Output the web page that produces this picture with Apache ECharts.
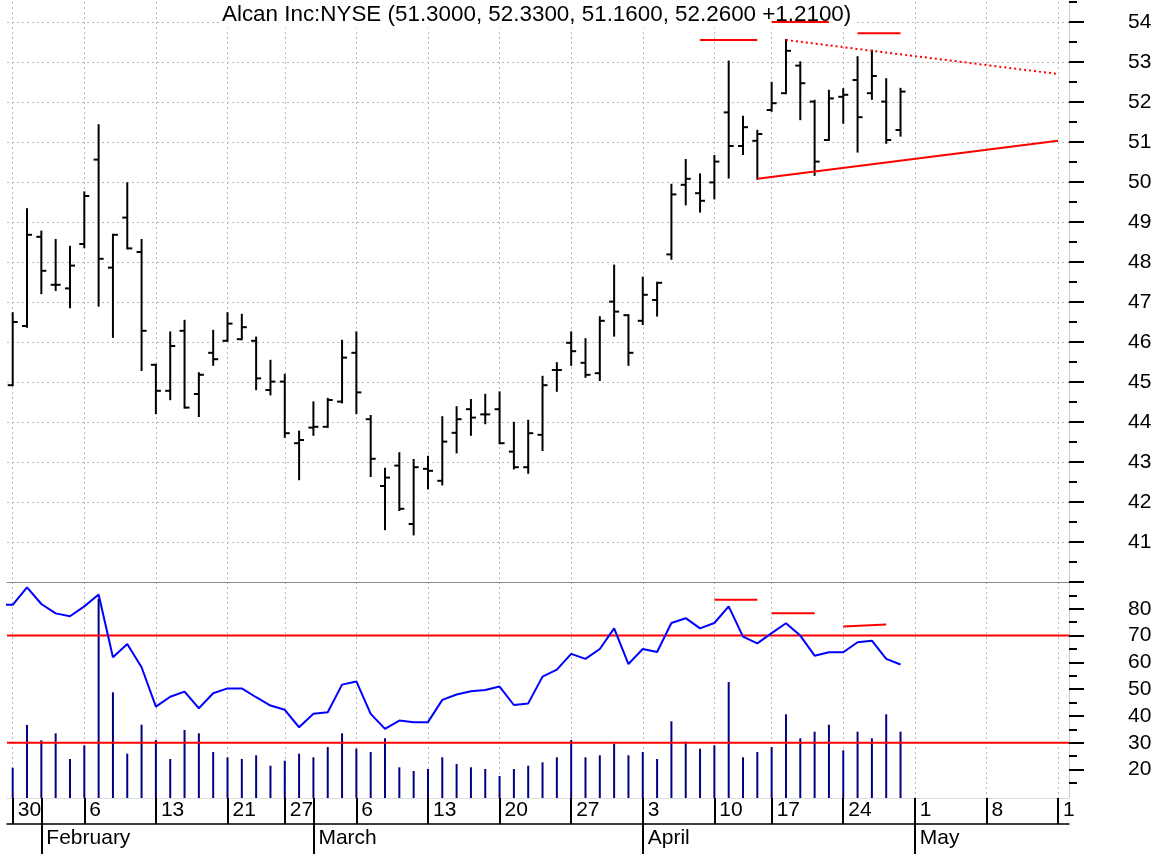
<!DOCTYPE html>
<html>
<head>
<meta charset="utf-8">
<title>Alcan Inc:NYSE</title>
<script src="https://cdn.jsdelivr.net/npm/echarts@6/dist/echarts.min.js"></script>
<style>
  html, body { margin: 0; padding: 0; background: #fff; }
  #chart { width: 1166px; height: 854px; }
</style>
</head>
<body>
<div id="chart"></div>
<script>
  // ---- data (Alcan, daily, 2006) ----
  const holidays = ['2006-02-20', '2006-04-14'];
  const barStart = '2006-01-30';
  const rsiStart = '2006-01-27';

  const opens = [44.92, 46.40, 48.63, 47.43, 47.34, 48.45, 50.56, 47.86, 49.11, 48.25,
    45.43, 44.78, 46.28, 44.70, 45.73, 46.03, 46.07, 46.03, 44.80, 45.01,
    43.47, 43.86, 43.88, 44.51, 45.73, 44.07, 42.40, 42.91, 41.45, 42.83,
    42.53, 43.73, 44.32, 44.19, 44.32, 43.26, 42.87, 43.68, 45.30, 45.98,
    45.48, 45.22, 47.01, 46.67, 46.53, 47.05, 48.19, 49.93, 49.72, 49.99,
    51.74, 50.90, 51.03, 51.80, 52.22, 52.91, 52.01, 51.05, 52.13, 52.55,
    52.22, 52.01, 51.30];
  const highs = [46.72, 49.32, 48.76, 48.55, 48.38, 49.74, 51.42, 48.68, 49.97, 48.55,
    45.43, 46.24, 46.53, 45.22, 46.28, 46.72, 46.68, 46.11, 45.53, 45.18,
    43.76, 44.49, 44.58, 46.03, 46.24, 44.15, 42.83, 43.22, 43.05, 43.13,
    44.12, 44.37, 44.55, 44.68, 44.74, 43.98, 44.03, 45.13, 45.47, 46.24,
    46.07, 46.62, 47.91, 46.67, 47.61, 47.48, 49.93, 50.55, 50.19, 50.65,
    53.01, 51.63, 51.28, 52.48, 53.55, 52.99, 52.03, 52.28, 52.32, 53.12,
    53.28, 52.57, 52.33];
  const lows = [44.92, 46.38, 47.22, 47.30, 46.87, 48.37, 46.91, 46.13, 48.34, 45.30,
    44.22, 44.57, 44.36, 44.15, 45.43, 46.03, 46.07, 44.82, 44.69, 43.63,
    42.57, 43.68, 43.88, 44.49, 44.22, 42.65, 41.32, 41.80, 41.19, 42.34,
    42.44, 43.24, 43.68, 43.97, 43.47, 42.84, 42.73, 43.30, 44.78, 45.43,
    45.13, 45.05, 46.16, 45.43, 46.45, 46.66, 48.08, 49.44, 49.26, 49.59,
    50.11, 50.70, 50.08, 51.78, 52.22, 51.57, 50.18, 51.05, 51.48, 50.76,
    52.08, 50.98, 51.16];
  const closes = [46.50, 48.68, 47.78, 47.43, 47.91, 49.65, 48.08, 48.68, 48.34, 46.28,
    44.78, 45.90, 44.36, 45.18, 45.57, 46.46, 46.37, 45.09, 45.01, 43.72,
    43.55, 43.88, 44.55, 45.61, 44.74, 43.08, 42.61, 41.83, 42.87, 42.78,
    43.51, 44.07, 44.11, 44.19, 43.47, 42.87, 43.72, 44.92, 45.30, 45.77,
    45.18, 46.53, 46.76, 45.73, 47.18, 47.48, 49.69, 50.08, 49.53, 50.51,
    50.90, 51.37, 51.20, 51.97, 53.28, 52.47, 50.51, 52.09, 52.18, 51.62,
    52.65, 51.05, 52.26];
  // volume, thousands of shares
  const volumes = [606, 1460, 1154, 1294, 780, 1054, 3990, 2114, 886, 1466,
    1160, 780, 1360, 1294, 920, 814, 780, 854, 646, 746,
    886, 814, 1020, 1294, 986, 920, 1194, 614, 540, 580,
    814, 680, 614, 580, 440, 580, 646, 714, 814, 1160,
    814, 854, 1086, 854, 920, 780, 1534, 1126, 986, 1054,
    2320, 814, 920, 1020, 1674, 1194, 1326, 1466, 954, 1326,
    1194, 1674, 1326];
  const rsi = [81.5, 81.5, 88.0, 81.8, 78.3, 77.2, 80.9, 85.3, 61.9, 66.9, 58.2,
    43.5, 47.2, 49.1, 42.9, 48.5, 50.3, 50.3, 47.0, 43.9, 42.3,
    35.8, 40.8, 41.4, 51.7, 52.9, 40.8, 35.2, 38.3, 37.7, 37.7,
    46.0, 48.0, 49.2, 49.7, 51.0, 44.1, 44.7, 54.7, 57.3, 63.2,
    61.3, 65.0, 72.7, 59.4, 65.0, 63.9, 74.7, 76.5, 72.7, 74.7,
    80.9, 69.6, 67.1, 70.9, 74.6, 70.0, 62.5, 63.8, 63.8, 67.5,
    68.1, 61.3, 59.2];
  const rsiLevels = [70, 30];

  // drawn trend lines and marks
  const supportLine = [['2006-04-13', 50.08], ['2006-05-15', 51.03]];
  const resistLine = [['2006-04-18', 53.55], ['2006-05-15', 52.70]];
  const priceMarks = [
    [['2006-04-07', 53.55], ['2006-04-13', 53.55]],
    [['2006-04-17', 54.00], ['2006-04-21', 54.00]],
    [['2006-04-25', 53.72], ['2006-04-28', 53.72]]
  ];
  const rsiMarks = [
    [['2006-04-10', 83.4], ['2006-04-13', 83.4]],
    [['2006-04-17', 78.3], ['2006-04-20', 78.3]],
    [['2006-04-24', 73.4], ['2006-04-27', 74.1]]
  ];

  // axis ticks
  const weekTicks = ['2006-01-30', '2006-02-06', '2006-02-13', '2006-02-21', '2006-02-27',
    '2006-03-06', '2006-03-13', '2006-03-20', '2006-03-27', '2006-04-03', '2006-04-10',
    '2006-04-17', '2006-04-24', '2006-05-01', '2006-05-08', '2006-05-15'];
  const monthTicks = ['2006-02-01', '2006-03-01', '2006-04-03', '2006-05-01'];
  const monthNames = ['January', 'February', 'March', 'April', 'May', 'June'];
  const priceTicks = [40, 41, 42, 43, 44, 45, 46, 47, 48, 49, 50, 51, 52, 53, 54];
  const priceLabels = [41, 42, 43, 44, 45, 46, 47, 48, 49, 50, 51, 52, 53, 54];
  const priceMinor = [40.5, 41.5, 42.5, 43.5, 44.5, 45.5, 46.5, 47.5, 48.5, 49.5, 50.5, 51.5, 52.5, 53.5, 54.5];
  const rsiTicks = [20, 30, 40, 50, 60, 70, 80, 90];
  const rsiLabels = [20, 30, 40, 50, 60, 70, 80];
  const rsiMinor = [15, 25, 35, 45, 55, 65, 75, 85];

  const title = 'Alcan Inc:NYSE (51.3000, 52.3300, 51.1600, 52.2600 +1.2100)';

  // ---- sessions ----
  function tradingDays(from, to) {
    const out = [];
    const d = new Date(from + 'T00:00:00Z');
    const end = new Date(to + 'T00:00:00Z');
    while (d <= end) {
      const s = d.toISOString().slice(0, 10);
      const wd = d.getUTCDay();
      if (wd !== 0 && wd !== 6 && holidays.indexOf(s) < 0) out.push(s);
      d.setUTCDate(d.getUTCDate() + 1);
    }
    return out;
  }
  const dates = tradingDays('2006-01-27', '2006-05-15');
  const idx = s => dates.indexOf(s);
  const toXY = p => [idx(p[0]), p[1]];

  const k0 = idx(barStart);
  const ohlcData = opens.map((o, i) => [k0 + i, o, highs[i], lows[i], closes[i]]);
  const volumeData = volumes.map((v, i) => [k0 + i, v]);
  const rsiData = rsi.map((v, i) => [idx(rsiStart) + i, v]);

  const weekK = weekTicks.map(idx);
  const lastWeek = weekK[weekK.length - 1];
  const monthK = monthTicks.map(idx);

  const xMin = 0.602, xMax = 74.765;
  const font = "'Liberation Sans', Arial, sans-serif";
  const dotted = { color: '#b8b8b8', width: 1, type: [2, 3] };
  const tickStyle = { color: '#000', width: 2 };
  const hidden = { show: false };

  function dayLabel(v) {
    return String(Number(dates[Math.round(v)].slice(8, 10)));
  }
  function monthLabel(v) {
    return monthNames[Number(dates[Math.round(v)].slice(5, 7)) - 1];
  }

  function renderOhlc(params, api) {
    const x = api.value(0);
    const o = api.coord([x, api.value(1)]);
    const h = api.coord([x, api.value(2)]);
    const l = api.coord([x, api.value(3)]);
    const c = api.coord([x, api.value(4)]);
    const style = { stroke: '#000', lineWidth: 2 };
    return {
      type: 'group',
      children: [
        { type: 'line', shape: { x1: h[0], y1: h[1] - 1, x2: l[0], y2: l[1] + 1 }, style },
        { type: 'line', shape: { x1: o[0] - 5, y1: o[1], x2: o[0], y2: o[1] }, style },
        { type: 'line', shape: { x1: c[0], y1: c[1], x2: c[0] + 5, y2: c[1] }, style }
      ]
    };
  }

  function segment(points, xi, yi, z, type) {
    return {
      type: 'line', xAxisIndex: xi, yAxisIndex: yi, data: points.map(toXY),
      symbol: 'none', silent: true, z: z,
      lineStyle: { color: '#ff0000', width: 2, type: type || 'solid' }
    };
  }

  const xBase = { type: 'value', min: xMin, max: xMax };

  const options = {
    animation: false,
    backgroundColor: '#fff',
    title: {
      text: title,
      left: 219,
      top: 2,
      padding: [2, 3],
      backgroundColor: '#fff',
      textStyle: { fontFamily: font, fontSize: 22.4, fontWeight: 'normal', color: '#000' }
    },
    grid: [
      { left: 7, right: 97, top: 2, height: 580, outerBoundsMode: 'none' },
      { left: 7, right: 97, top: 582, height: 216, outerBoundsMode: 'none' }
    ],
    xAxis: [
      Object.assign({}, xBase, {
        gridIndex: 0, position: 'bottom',
        axisLine: { show: true, onZero: false, lineStyle: { color: '#8c8c8c', width: 1 } },
        axisTick: { show: false, customValues: weekK },
        axisLabel: hidden,
        splitLine: { show: true, lineStyle: dotted }
      }),
      Object.assign({}, xBase, {
        gridIndex: 1, position: 'bottom',
        axisLine: { show: true, onZero: false, lineStyle: { color: '#dddddd', width: 1 } },
        axisTick: { show: true, customValues: weekK, length: 26, lineStyle: tickStyle },
        axisLabel: {
          customValues: weekK.filter(k => k !== lastWeek), formatter: dayLabel,
          align: 'left', padding: [0, 0, 0, 5], margin: 2,
          fontFamily: font, fontSize: 21, color: '#000'
        },
        splitLine: { show: true, lineStyle: dotted }
      }),
      Object.assign({}, xBase, {
        gridIndex: 1, position: 'bottom',
        axisLine: { show: false, onZero: false },
        axisTick: { show: true, customValues: monthK, length: 56, lineStyle: tickStyle },
        axisLabel: {
          customValues: monthK, formatter: monthLabel,
          align: 'left', padding: [0, 0, 0, 5], margin: 30,
          fontFamily: font, fontSize: 21, color: '#000'
        },
        splitLine: hidden
      }),
      Object.assign({}, xBase, {
        gridIndex: 1, position: 'bottom', offset: 26,
        axisLine: { show: true, onZero: false, lineStyle: { color: '#000', width: 1.5 } },
        axisTick: hidden, axisLabel: hidden, splitLine: hidden
      }),
      // last week label, cut off by the price scale
      Object.assign({}, xBase, {
        gridIndex: 1, position: 'bottom',
        axisLine: { show: false, onZero: false }, axisTick: hidden, splitLine: hidden,
        axisLabel: {
          customValues: [lastWeek], formatter: dayLabel,
          align: 'left', padding: [0, 0, 0, 5], margin: 2,
          width: 14, overflow: 'truncate', ellipsis: '',
          fontFamily: font, fontSize: 21, color: '#000'
        }
      })
    ],
    yAxis: [
      {
        type: 'value', gridIndex: 0, position: 'right', min: 40, max: 54.5,
        axisLine: { show: true, onZero: false, lineStyle: { color: '#cccccc' } },
        axisTick: { show: true, customValues: priceTicks, length: 15, lineStyle: tickStyle },
        axisLabel: { customValues: priceLabels, margin: 59, fontFamily: font, fontSize: 21, color: '#000' },
        splitLine: { show: true, lineStyle: dotted }
      },
      {
        type: 'value', gridIndex: 0, position: 'right', min: 40, max: 54.5,
        axisLine: { show: false, onZero: false },
        axisTick: { show: true, customValues: priceMinor, length: 8, lineStyle: tickStyle },
        axisLabel: hidden, splitLine: hidden
      },
      {
        type: 'value', gridIndex: 1, position: 'right', min: 9.4, max: 90,
        axisLine: { show: true, onZero: false, lineStyle: { color: '#cccccc' } },
        axisTick: { show: true, customValues: rsiTicks, length: 15, lineStyle: tickStyle },
        axisLabel: { customValues: rsiLabels, margin: 59, fontFamily: font, fontSize: 21, color: '#000' },
        splitLine: hidden
      },
      {
        type: 'value', gridIndex: 1, position: 'right', min: 9.4, max: 90,
        axisLine: { show: false, onZero: false },
        axisTick: { show: true, customValues: rsiMinor, length: 8, lineStyle: tickStyle },
        axisLabel: hidden, splitLine: hidden
      },
      { type: 'value', gridIndex: 1, min: 0, max: 4320, show: false }
    ],
    series: [
      {
        name: 'Alcan', type: 'custom', xAxisIndex: 0, yAxisIndex: 0,
        renderItem: renderOhlc, data: ohlcData, encode: { x: 0, y: [1, 2, 3, 4] },
        clip: true, z: 2
      },
      segment(supportLine, 0, 0, 3),
      segment(resistLine, 0, 0, 3, [2, 3]),
      ...priceMarks.map(m => segment(m, 0, 0, 10)),
      {
        name: 'Volume', type: 'bar', xAxisIndex: 1, yAxisIndex: 4,
        data: volumeData, barWidth: 2, itemStyle: { color: '#000080' }, z: 2
      },
      ...rsiLevels.map(v => ({
        type: 'line', xAxisIndex: 1, yAxisIndex: 2, data: [[xMin, v], [xMax, v]],
        symbol: 'none', silent: true, z: 3, lineStyle: { color: '#ff0000', width: 2 }
      })),
      ...rsiMarks.map(m => segment(m, 1, 2, 4)),
      {
        name: 'RSI', type: 'line', xAxisIndex: 1, yAxisIndex: 2,
        data: rsiData, symbol: 'none', z: 5,
        lineStyle: { color: '#0000ff', width: 2 }
      }
    ]
  };

  const chart = echarts.init(document.getElementById('chart'));
  chart.setOption(options);
  window.addEventListener('resize', () => chart.resize());
</script>
</body>
</html>
